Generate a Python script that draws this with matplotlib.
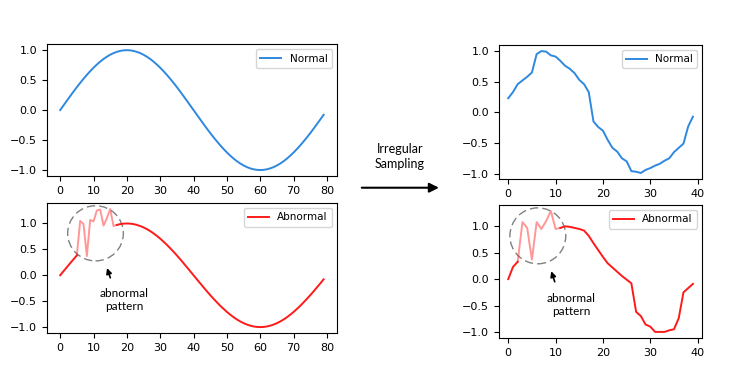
import matplotlib
matplotlib.use("Agg")
import matplotlib.pyplot as plt
from matplotlib.patches import Ellipse

# ---- data ----
long_t = list(range(80))
long_normal = [0.000, 0.078, 0.156, 0.233, 0.309, 0.383, 0.454, 0.522, 0.588, 0.649,
               0.707, 0.760, 0.809, 0.853, 0.891, 0.924, 0.951, 0.972, 0.988, 0.997,
               1.000, 0.997, 0.988, 0.972, 0.951, 0.924, 0.891, 0.853, 0.809, 0.760,
               0.707, 0.649, 0.588, 0.522, 0.454, 0.383, 0.309, 0.233, 0.156, 0.078,
               0.000, -0.078, -0.156, -0.233, -0.309, -0.383, -0.454, -0.522, -0.588, -0.649,
               -0.707, -0.760, -0.809, -0.853, -0.891, -0.924, -0.951, -0.972, -0.988, -0.997,
               -1.000, -0.997, -0.988, -0.972, -0.951, -0.924, -0.891, -0.853, -0.809, -0.760,
               -0.707, -0.649, -0.588, -0.522, -0.454, -0.383, -0.309, -0.233, -0.156, -0.078]
long_abnormal = [0.000, 0.078, 0.156, 0.233, 0.309, 0.383, 1.05, 0.99, 0.37, 1.07,
                 1.04, 1.25, 1.27, 0.96, 1.10, 1.28, 0.95, 0.972, 0.988, 0.997,
                 1.000, 0.997, 0.988, 0.972, 0.951, 0.924, 0.891, 0.853, 0.809, 0.760,
                 0.707, 0.649, 0.588, 0.522, 0.454, 0.383, 0.309, 0.233, 0.156, 0.078,
                 0.000, -0.078, -0.156, -0.233, -0.309, -0.383, -0.454, -0.522, -0.588, -0.649,
                 -0.707, -0.760, -0.809, -0.853, -0.891, -0.924, -0.951, -0.972, -0.988, -0.997,
                 -1.000, -0.997, -0.988, -0.972, -0.951, -0.924, -0.891, -0.853, -0.809, -0.760,
                 -0.707, -0.649, -0.588, -0.522, -0.454, -0.383, -0.309, -0.233, -0.156, -0.078]
long_bad_span = (5, 17)   # indices drawn as the faded abnormal pattern

short_t = list(range(40))
short_normal = [0.23, 0.33, 0.46, 0.52, 0.58, 0.65, 0.95, 1.00, 0.99, 0.93,
                0.91, 0.84, 0.76, 0.71, 0.64, 0.53, 0.46, 0.33, -0.15, -0.24,
                -0.30, -0.45, -0.58, -0.64, -0.75, -0.80, -0.96, -0.97, -0.99, -0.94,
                -0.91, -0.87, -0.84, -0.79, -0.75, -0.65, -0.58, -0.51, -0.23, -0.07]
short_abnormal = [0.00, 0.23, 0.33, 1.08, 0.97, 0.37, 1.08, 0.95, 1.10, 1.29,
                  0.95, 0.97, 1.00, 0.99, 0.97, 0.95, 0.92, 0.82, 0.68, 0.55,
                  0.42, 0.30, 0.22, 0.14, 0.06, -0.01, -0.08, -0.62, -0.70, -0.86,
                  -0.90, -1.00, -1.00, -1.00, -0.97, -0.95, -0.74, -0.25, -0.17, -0.09]
short_bad_span = (2, 11)

blue = '#2f88e0'
red = '#ff1a1a'
txt_font = ['Lato', 'DejaVu Sans']

fig = plt.figure(figsize=(7.47, 3.81), dpi=100)
plt.rcParams['xtick.labelsize'] = 8
plt.rcParams['ytick.labelsize'] = 8

ax1 = fig.add_axes([0.0629, 0.538, 0.388, 0.346])
ax2 = fig.add_axes([0.0629, 0.126, 0.388, 0.341])
ax3 = fig.add_axes([0.668, 0.530, 0.272, 0.352])
ax4 = fig.add_axes([0.668, 0.113, 0.272, 0.349])

def abnormal_plot(ax, t, y, span):
    a, b = span
    ax.plot(t[:a + 1], y[:a + 1], color=red, lw=1.4, label='Abnormal')
    ax.plot(t[a:b + 1], y[a:b + 1], color=red, lw=1.4, alpha=0.45)
    ax.plot(t[b:], y[b:], color=red, lw=1.4)

ax1.plot(long_t, long_normal, color=blue, lw=1.4, label='Normal')
abnormal_plot(ax2, long_t, long_abnormal, long_bad_span)
ax3.plot(short_t, short_normal, color=blue, lw=1.4, label='Normal')
abnormal_plot(ax4, short_t, short_abnormal, short_bad_span)

for ax in [ax1, ax2, ax3, ax4]:
    ax.legend(loc='upper right', fontsize=7.5)
for ax in [ax1, ax2]:
    ax.set_xticks(range(0, 81, 10))
for ax in [ax3, ax4]:
    ax.set_xticks(range(0, 41, 10))
for ax in [ax1, ax2, ax3, ax4]:
    ax.set_yticks([-1.0, -0.5, 0.0, 0.5, 1.0])

# circles + arrows marking the abnormal pattern
ax2.add_patch(Ellipse((10.6, 0.81), 16.7, 1.065, fill=False, ec='gray',
                      ls=(0, (6, 3)), lw=1))
ax2.annotate('', xy=(13.8, 0.19), xytext=(15.3, -0.1),
             arrowprops=dict(arrowstyle='-|>', color='black', lw=1.2, mutation_scale=8))
ax2.text(19.2, -0.47, 'abnormal\npattern', ha='center', va='center',
         fontsize=8.5, family=txt_font, linespacing=1.25)

ax4.add_patch(Ellipse((6.25, 0.82), 11.8, 1.06, fill=False, ec='gray',
                      ls=(0, (6, 3)), lw=1))
ax4.annotate('', xy=(8.9, 0.2), xytext=(10.0, -0.1),
             arrowprops=dict(arrowstyle='-|>', color='black', lw=1.2, mutation_scale=8))
ax4.text(13.3, -0.49, 'abnormal\npattern', ha='center', va='center',
         fontsize=8.5, family=txt_font, linespacing=1.25)

# middle arrow
fig.text(0.5355, 0.589, 'Irregular\nSampling', ha='center', va='center',
         fontsize=9, family=txt_font, linespacing=1.25)
fig.patches  # keep
plt.annotate('', xy=(0.5913, 0.5073), xytext=(0.4806, 0.5073), xycoords='figure fraction',
             textcoords='figure fraction',
             arrowprops=dict(arrowstyle='-|>', color='black', lw=1.5, mutation_scale=14))

plt.savefig('out.png', dpi=100)
